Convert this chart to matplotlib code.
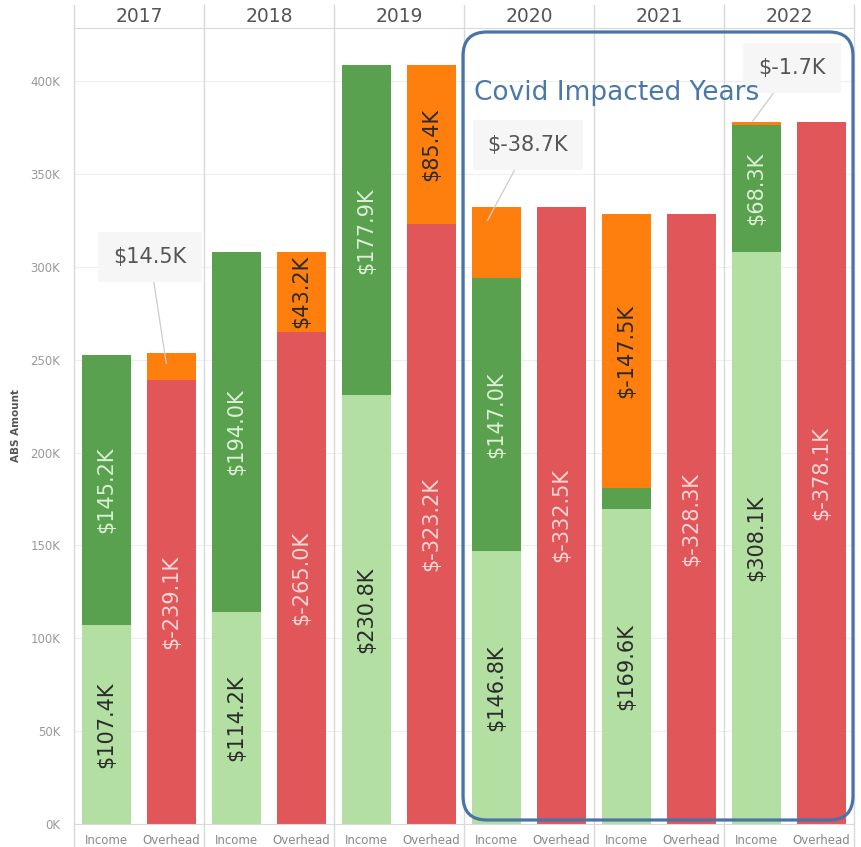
import matplotlib
matplotlib.use("Agg")
import matplotlib.pyplot as plt
from matplotlib.patches import FancyBboxPatch
from matplotlib.lines import Line2D
from matplotlib.transforms import IdentityTransform

# ---------------- data (values in $K) ----------------
years = ['2017', '2018', '2019', '2020', '2021', '2022']
categories = ['Income', 'Overhead']
income_base = [107.4, 114.2, 230.8, 146.8, 169.6, 308.1]   # light green
income_extra = [145.2, 194.0, 177.9, 147.0, 11.2, 68.3]    # dark green
overhead = [239.1, 265.0, 323.2, 332.5, 328.3, 378.1]      # red
profit = [14.5, 43.2, 85.4, -38.7, -147.5, -1.7]           # orange
y_ticks = [0, 50, 100, 150, 200, 250, 300, 350, 400]

# ---------------- style ----------------
C_LIGHT = '#b3dfa3'
C_DARK = '#59a14f'
C_RED = '#e15759'
C_ORANGE = '#ff7f0e'
GRID = '#d9d9d9'
plt.rcParams['font.family'] = ['DejaVu Sans']

W, H = 861, 847
fig = plt.figure(figsize=(W / 100, H / 100), dpi=100)

LEFT, PANEL_W = 74, 130
TOP, BOTTOM = 28, 824
YMAX = 428.7
BAR_W = 0.74
LABEL_FS = 15

# callout layout: (text centre x px, text centre y px from top, arrow target dx in data units, target value)
callout_pos = {0: (150, 257, -0.08, 248.0),
               3: (528, 145, -0.14, 325.0),
               5: (792, 68, -0.06, 378.5)}


def fmt(v):
    return f"${v:.1f}K"


for i, yr in enumerate(years):
    x0 = LEFT + i * PANEL_W
    ax = fig.add_axes([x0 / W, (H - BOTTOM) / H, PANEL_W / W, (BOTTOM - TOP) / H])
    ax.set_xlim(-0.5, 1.5)
    ax.set_ylim(0, YMAX)
    ax.set_yticks(y_ticks)
    ax.yaxis.grid(True, color='#eeeeee', lw=0.8)
    ax.set_axisbelow(True)
    for s in ['left', 'right']:
        ax.spines[s].set_visible(False)
    ax.spines['top'].set_color(GRID)
    ax.spines['bottom'].set_color(GRID)
    ax.tick_params(axis='both', length=0)
    ax.set_xticks([0, 1])
    ax.set_xticklabels(categories, fontsize=8.5, color='#888888')
    ax.tick_params(axis='x', pad=7)
    if i == 0:
        ax.set_yticklabels([f"{t}K" for t in y_ticks], fontsize=8.5, color='#999999')
        ax.tick_params(axis='y', pad=10)
    else:
        ax.set_yticklabels([])

    # Income bar
    b = 0.0
    ax.bar(0, income_base[i], BAR_W, bottom=b, color=C_LIGHT)
    ax.text(0, b + income_base[i] / 2, fmt(income_base[i]), rotation=90,
            ha='center', va='center', fontsize=LABEL_FS, color='#2b2b2b')
    b += income_base[i]
    ax.bar(0, income_extra[i], BAR_W, bottom=b, color=C_DARK)
    if income_extra[i] >= 40:
        ax.text(0, b + income_extra[i] / 2, fmt(income_extra[i]), rotation=90,
                ha='center', va='center', fontsize=LABEL_FS, color='#dcefd6')
    b += income_extra[i]

    # Overhead bar
    ob = 0.0
    ax.bar(1, overhead[i], BAR_W, bottom=ob, color=C_RED)
    ax.text(1, ob + overhead[i] / 2, fmt(-overhead[i]), rotation=90,
            ha='center', va='center', fontsize=LABEL_FS, color='#fbd6d6')
    ob += overhead[i]

    # Profit / loss segment
    p = profit[i]
    if p >= 0:
        px, pb = 1, ob
    else:
        px, pb = 0, b
    ax.bar(px, abs(p), BAR_W, bottom=pb, color=C_ORANGE)
    if abs(p) >= 40:
        ax.text(px, pb + abs(p) / 2, fmt(p), rotation=90,
                ha='center', va='center', fontsize=LABEL_FS, color='#2b2b2b')
    elif i in callout_pos:
        tx, ty, dx, tv = callout_pos[i]
        ax.annotate(fmt(p), xy=(px + dx, tv), xycoords='data',
                    xytext=(tx, H - ty), textcoords='figure pixels',
                    ha='center', va='center', fontsize=LABEL_FS, color='#555555',
                    bbox=dict(boxstyle='square,pad=0.72', fc='#f6f6f6', ec='none'),
                    arrowprops=dict(arrowstyle='-', color='#cccccc', lw=0.9,
                                    shrinkA=0, shrinkB=0),
                    zorder=5)

    # year header
    fig.text((x0 + PANEL_W / 2) / W, 1 - 17 / H, yr, ha='center', va='center',
             fontsize=13.5, color='#555555')

# panel separators (full height)
for i in range(len(years) + 1):
    x = (LEFT + i * PANEL_W) / W
    fig.add_artist(Line2D([x, x], [0, 1 - 5 / H], transform=fig.transFigure,
                          color=GRID, lw=1))

# y axis title
fig.text(16 / W, 1 - 425 / H, 'ABS Amount', rotation=90, ha='center', va='center',
         fontsize=7.5, fontweight='bold', color='#555555')

# Covid highlight box
box = FancyBboxPatch((463, H - 820), 390, 788,
                     boxstyle='round,pad=0,rounding_size=24',
                     transform=IdentityTransform(), fill=False,
                     ec='#4a74a5', lw=2.3, zorder=10)
fig.add_artist(box)
fig.text(474 / W, (H - 100) / H, 'Covid Impacted Years', ha='left', va='baseline',
         fontsize=19, color='#4a78ab', zorder=11)

fig.savefig('out.png', dpi=100)
